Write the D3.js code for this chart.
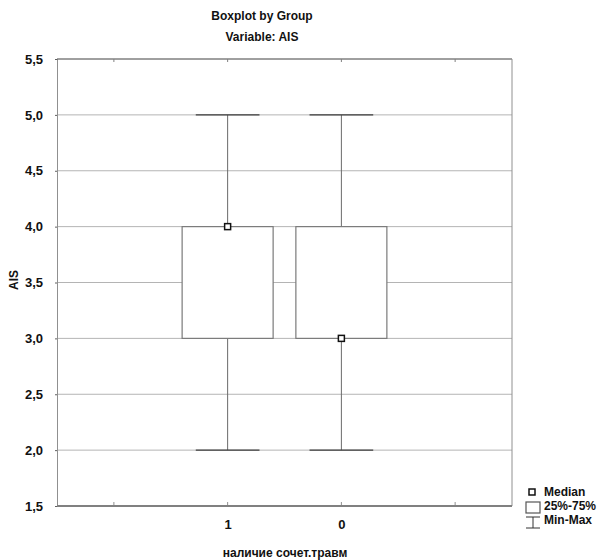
<!DOCTYPE html>
<html>
<head>
<meta charset="utf-8">
<script src="https://cdn.jsdelivr.net/npm/d3@7"></script>
<style>
  body { margin: 0; background: #fff; }
  text { font-family: "Liberation Sans Narrow", "Arial Narrow", "Liberation Sans", sans-serif; font-weight: bold; fill: #111; }
</style>
</head>
<body>
<div id="chart"></div>
<script>
// Data
var groups = ["1", "0"];
var mins = [2, 2];
var q1s = [3, 3];
var medians = [4, 3];
var q3s = [4, 4];
var maxs = [5, 5];
var yTicks = [1.5, 2, 2.5, 3, 3.5, 4, 4.5, 5, 5.5];
var legendLabels = ["Median", "25%-75%", "Min-Max"];

var svgWidth = 602;
var svgHeight = 560;

var margin = { top: 59, right: 90, bottom: 54, left: 57 };
var chartWidth = 512 - margin.left;
var chartHeight = 506 - margin.top;

var svg = d3.select("#chart")
  .append("svg")
  .attr("width", svgWidth)
  .attr("height", svgHeight);

var chartGroup = svg.append("g").attr("transform", `translate(${margin.left}, ${margin.top})`);

// Scales: x has 4 slots, groups sit at slot 1 and 2 centres
var xScale = d3.scaleLinear().domain([0, 4]).range([0, chartWidth]);
var yScale = d3.scaleLinear().domain([1.5, 5.5]).range([chartHeight, 0]);
var xTickPos = [0.5, 1.5, 2.5, 3.5];
var groupPos = [1.5, 2.5];
var boxHalf = 0.4;
var capHalf = 0.28;

// Gridlines
chartGroup.selectAll(".grid")
  .data(yTicks.slice(1, -1))
  .enter()
  .append("line")
  .attr("x1", 0)
  .attr("x2", chartWidth)
  .attr("y1", d => yScale(d))
  .attr("y2", d => yScale(d))
  .attr("stroke", "#b4b4b4")
  .attr("stroke-width", 1);

// Left axis
var leftAxis = d3.axisLeft(yScale)
  .tickValues(yTicks)
  .tickSize(2)
  .tickPadding(12)
  .tickFormat(d => d3.format(".1f")(d).replace(".", ","));
var yAxis = chartGroup.append("g").call(leftAxis);
yAxis.select(".domain").attr("stroke", "#909090");
yAxis.selectAll(".tick line").attr("stroke", "#606060");
yAxis.selectAll("text").style("font-size", "13px").attr("fill", "#111");

// Bottom axis
var bottomAxis = d3.axisBottom(xScale)
  .tickValues(groupPos)
  .tickSize(0)
  .tickPadding(14)
  .tickFormat((d, i) => groups[i]);
var xAxis = chartGroup.append("g")
  .attr("transform", `translate(0, ${chartHeight})`)
  .call(bottomAxis);
xAxis.select(".domain").remove();
xAxis.selectAll("text").style("font-size", "13px").attr("fill", "#111");

// Frame
chartGroup.append("line").attr("x1", 0).attr("x2", chartWidth).attr("y1", 0).attr("y2", 0)
  .attr("stroke", "#404040").attr("stroke-width", 1);
chartGroup.append("line").attr("x1", chartWidth).attr("x2", chartWidth).attr("y1", 0).attr("y2", chartHeight)
  .attr("stroke", "#909090").attr("stroke-width", 1);
chartGroup.append("line").attr("x1", 0).attr("x2", chartWidth).attr("y1", chartHeight).attr("y2", chartHeight)
  .attr("stroke", "#808080").attr("stroke-width", 2);

// Inner ticks top and bottom
chartGroup.selectAll(".ttick")
  .data(xTickPos)
  .enter()
  .append("line")
  .attr("x1", d => xScale(d))
  .attr("x2", d => xScale(d))
  .attr("y1", 0)
  .attr("y2", 3)
  .attr("stroke", "#808080");
chartGroup.selectAll(".btick")
  .data(xTickPos)
  .enter()
  .append("line")
  .attr("x1", d => xScale(d))
  .attr("x2", d => xScale(d))
  .attr("y1", chartHeight - 1)
  .attr("y2", chartHeight - 4)
  .attr("stroke", "#909090");

// Whiskers
var idx = d3.range(groups.length);
chartGroup.selectAll(".whisker")
  .data(idx)
  .enter()
  .append("line")
  .attr("x1", i => xScale(groupPos[i]))
  .attr("x2", i => xScale(groupPos[i]))
  .attr("y1", i => yScale(mins[i]))
  .attr("y2", i => yScale(maxs[i]))
  .attr("stroke", "#6a6a6a");

// Caps
[mins, maxs].forEach(function(vals) {
  chartGroup.selectAll(null)
    .data(idx)
    .enter()
    .append("line")
    .attr("x1", i => xScale(groupPos[i] - capHalf))
    .attr("x2", i => xScale(groupPos[i] + capHalf))
    .attr("y1", i => yScale(vals[i]))
    .attr("y2", i => yScale(vals[i]))
    .attr("stroke", "#3c3c3c")
    .attr("stroke-width", 1.2);
});

// Boxes
chartGroup.selectAll(".box")
  .data(idx)
  .enter()
  .append("rect")
  .attr("x", i => xScale(groupPos[i] - boxHalf))
  .attr("width", xScale(2 * boxHalf) - xScale(0))
  .attr("y", i => yScale(q3s[i]))
  .attr("height", i => yScale(q1s[i]) - yScale(q3s[i]))
  .attr("fill", "#fff")
  .attr("stroke", "#7a7a7a")
  .attr("stroke-width", 1.2);

// Median markers
chartGroup.selectAll(".median")
  .data(idx)
  .enter()
  .append("rect")
  .attr("x", i => xScale(groupPos[i]) - 3)
  .attr("y", i => yScale(medians[i]) - 3)
  .attr("width", 6)
  .attr("height", 6)
  .attr("fill", "#fff")
  .attr("stroke", "#111")
  .attr("stroke-width", 1.5);

// Titles
svg.append("text")
  .attr("x", 262)
  .attr("y", 20)
  .attr("text-anchor", "middle")
  .style("font-size", "12px")
  .text("Boxplot by Group");
svg.append("text")
  .attr("x", 262)
  .attr("y", 41)
  .attr("text-anchor", "middle")
  .style("font-size", "12px")
  .text("Variable: AIS");

// Axis labels
svg.append("text")
  .attr("x", 285)
  .attr("y", 557)
  .attr("text-anchor", "middle")
  .style("font-size", "12px")
  .text("наличие сочет.травм");
svg.append("text")
  .attr("transform", "translate(18, 280) rotate(-90)")
  .attr("text-anchor", "middle")
  .style("font-size", "12px")
  .text("AIS");

// Legend
var legend = svg.append("g").attr("transform", "translate(526, 485)");
legend.append("rect").attr("x", 3).attr("y", 4).attr("width", 6).attr("height", 6)
  .attr("fill", "#fff").attr("stroke", "#111").attr("stroke-width", 1.5);
legend.append("rect").attr("x", 0).attr("y", 17).attr("width", 14).attr("height", 11)
  .attr("fill", "#fff").attr("stroke", "#555").attr("stroke-width", 1.2);
legend.append("line").attr("x1", 0).attr("x2", 14).attr("y1", 32).attr("y2", 32).attr("stroke", "#333");
legend.append("line").attr("x1", 0).attr("x2", 14).attr("y1", 43).attr("y2", 43).attr("stroke", "#333");
legend.append("line").attr("x1", 7).attr("x2", 7).attr("y1", 32).attr("y2", 43).attr("stroke", "#333");
legend.selectAll(".ltext")
  .data(legendLabels)
  .enter()
  .append("text")
  .attr("x", 18)
  .attr("y", (d, i) => 11 + i * 14)
  .style("font-size", "12px")
  .text(d => d);
</script>
</body>
</html>
